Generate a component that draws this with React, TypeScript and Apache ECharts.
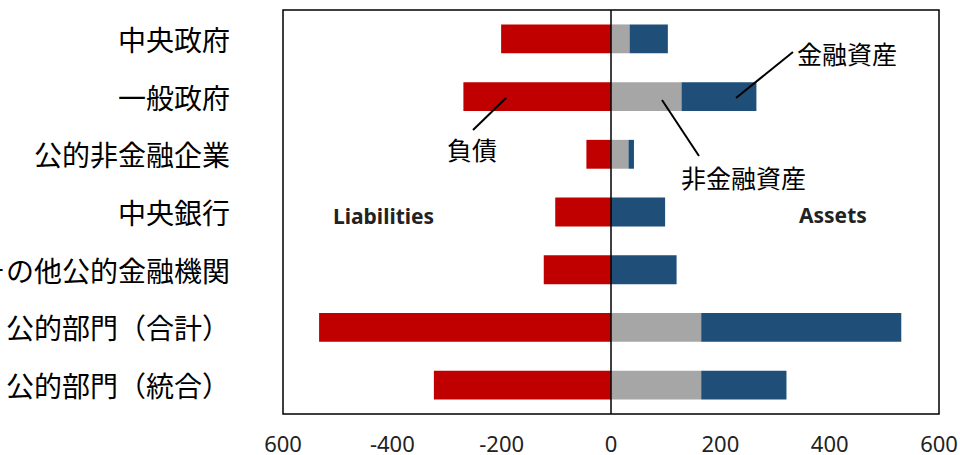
import React, { useEffect, useRef } from "react";
import * as echarts from "echarts";

// Public sector balance sheet (trillion yen)
const categories = [
  "中央政府",
  "一般政府",
  "公的非金融企業",
  "中央銀行",
  "その他公的金融機関",
  "公的部門（合計）",
  "公的部門（統合）",
];
const liabilities = [-201, -270, -45, -102, -123, -534, -324];
const nonFinancialAssets = [34, 129, 32, 0, 0, 165, 165];
const financialAssets = [70, 137, 10, 99, 120, 366, 156];
const xTicks = [-600, -400, -200, 0, 200, 400, 600];

const RED = "#C00000";
const GREY = "#A6A6A6";
const BLUE = "#1F4E79";
const JP = '"Noto Sans CJK JP", "Noto Sans", sans-serif';
const LATIN = '"Noto Sans", "Open Sans", sans-serif';

export default function App() {
  const ref = useRef<HTMLDivElement>(null);

  useEffect(() => {
    if (!ref.current) return;
    const chart = echarts.init(ref.current, undefined, { renderer: "svg" });
    const annText = (x: number, y: number, text: string) => ({
      type: "text",
      x,
      y,
      style: { text, font: `25px ${JP}`, fill: "#000", textVerticalAlign: "middle" },
      z: 10,
    });
    const annLine = (x1: number, y1: number, x2: number, y2: number) => ({
      type: "line",
      shape: { x1, y1, x2, y2 },
      style: { stroke: "#000", lineWidth: 2 },
      z: 10,
    });
    chart.setOption({
      animation: false,
      grid: {
        left: 283,
        right: 21,
        top: 10,
        bottom: 41,
        containLabel: false,
        outerBoundsMode: "none",
        show: true,
        borderColor: "#000",
        borderWidth: 1.5,
        backgroundColor: "#fff",
      },
      xAxis: {
        type: "value",
        min: xTicks[0],
        max: xTicks[xTicks.length - 1],
        interval: 200,
        axisLine: { show: false },
        axisTick: { show: false },
        splitLine: { show: false },
        axisLabel: {
          margin: 18,
          fontSize: 22,
          color: "#222",
          fontFamily: LATIN,
          formatter: (v: number) => (v === xTicks[0] ? String(-v) : String(v)),
        },
      },
      yAxis: {
        type: "category",
        data: categories,
        inverse: true,
        axisLine: { show: false, onZero: false },
        axisTick: { show: false },
        axisLabel: {
          margin: 53,
          fontSize: 28,
          color: "#000",
          fontFamily: JP,
        },
      },
      series: [
        {
          name: "負債",
          type: "bar",
          stack: "bs",
          data: liabilities,
          barWidth: "50%",
          itemStyle: { color: RED },
          markLine: {
            silent: true,
            symbol: "none",
            label: { show: false },
            lineStyle: { color: "#000", width: 1.5, type: "solid" },
            data: [{ xAxis: 0 }],
            z: 5,
          },
        },
        {
          name: "非金融資産",
          type: "bar",
          stack: "bs",
          data: nonFinancialAssets,
          barWidth: "50%",
          itemStyle: { color: GREY },
        },
        {
          name: "金融資産",
          type: "bar",
          stack: "bs",
          data: financialAssets,
          barWidth: "50%",
          itemStyle: { color: BLUE },
        },
      ],
      graphic: [
        {
          type: "text",
          x: 333,
          y: 216,
          style: { text: "Liabilities", font: `bold 21px ${LATIN}`, fill: "#222", textVerticalAlign: "middle" },
        },
        {
          type: "text",
          x: 799,
          y: 215,
          style: { text: "Assets", font: `bold 21px ${LATIN}`, fill: "#222", textVerticalAlign: "middle" },
        },
        annText(447, 149, "負債"),
        annLine(473, 130, 506, 98),
        annText(797, 53, "金融資産"),
        annLine(793, 52, 736, 98),
        annText(681, 177, "非金融資産"),
        annLine(662, 100, 699, 156),
      ],
    });
    return () => chart.dispose();
  }, []);

  return (
    <div
      ref={ref}
      style={{ position: "fixed", left: 0, top: 0, width: 960, height: 455, background: "#fff" }}
    />
  );
}
